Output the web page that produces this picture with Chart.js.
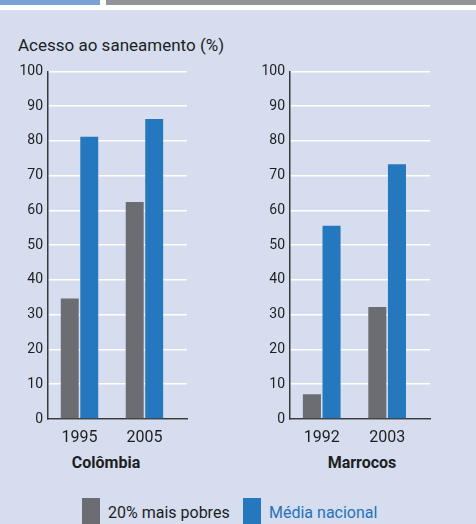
<!DOCTYPE html>
<html>
<head>
<meta charset="utf-8">
<script src="https://cdn.jsdelivr.net/npm/chart.js@4.4.0/dist/chart.umd.min.js"></script>
<style>
    html, body { margin: 0; padding: 0; background: #fff; }
    #wrap { position: relative; width: 476px; height: 524px; overflow: hidden; font-family: Roboto, sans-serif; color: #1e1e1e; }
    .strip { position: absolute; top: 0; height: 5px; }
    #panel { position: absolute; left: 0; top: 10px; width: 476px; height: 514px; background: #d5ddef; }
    canvas { position: absolute; }
    .txt { position: absolute; white-space: nowrap; }
    .country { font-weight: bold; font-size: 16px; text-align: center; width: 120px; }
    .swatch { position: absolute; width: 18px; height: 26px; }
</style>
</head>
<body>
<div id="wrap">
    <div class="strip" style="left:0;width:100px;background:#7aa2d5;"></div>
    <div class="strip" style="left:106px;width:370px;background:#939498;"></div>
    <div id="panel"></div>
    <div class="txt" id="title" style="left:18px;top:35px;font-size:17px;"></div>
    <canvas id="chartColombia" style="left:0;top:58px;"></canvas>
    <canvas id="chartMorocco" style="left:242px;top:58px;"></canvas>
    <div class="txt country" id="nameColombia" style="left:46px;top:453px;"></div>
    <div class="txt country" id="nameMorocco" style="left:302px;top:453px;"></div>
    <div id="legend"></div>
</div>
<script>
// Data
var chartTitle = 'Acesso ao saneamento (%)';
var countries = ['Colômbia', 'Marrocos'];
var seriesNames = ['20% mais pobres', 'Média nacional'];

var colombiaYears = ['1995', '2005'];
var colombiaPoorest = [34.7, 62.4];
var colombiaAverage = [81.2, 86.3];

var moroccoYears = ['1992', '2003'];
var moroccoPoorest = [7.1, 32.2];
var moroccoAverage = [55.6, 73.3];

var yTicks = [0, 10, 20, 30, 40, 50, 60, 70, 80, 90, 100];

// Styles
var seriesColors = ['#6c6d72', '#2678be'];
var legendTextColors = ['#1e1e1e', '#2672b8'];

document.getElementById('title').textContent = chartTitle;
document.getElementById('nameColombia').textContent = countries[0];
document.getElementById('nameMorocco').textContent = countries[1];

// Legend
var legend = document.getElementById('legend');
var legendX = [82, 243];
for (let i = 0; i < seriesNames.length; i++) {
    var sw = document.createElement('div');
    sw.className = 'swatch';
    sw.style.left = legendX[i] + 'px';
    sw.style.top = '498px';
    sw.style.background = seriesColors[i];
    legend.appendChild(sw);
    var lt = document.createElement('div');
    lt.className = 'txt';
    lt.style.left = (legendX[i] + 26) + 'px';
    lt.style.top = '503px';
    lt.style.fontSize = '16px';
    lt.style.color = legendTextColors[i];
    lt.textContent = seriesNames[i];
    legend.appendChild(lt);
}

Chart.defaults.font.family = 'Roboto, sans-serif';
Chart.defaults.color = '#1e1e1e';

const makeChart = (id, years, poorest, average, padRight) => {
    var canvas = document.getElementById(id);
    canvas.width = 200;
    canvas.height = 391;
    canvas.style.width = '200px';
    canvas.style.height = '391px';
    var ctx = canvas.getContext('2d');
    var series = [poorest, average];
    var datasets = [];
    for (let i = 0; i < series.length; i++) {
        datasets.push({
            label: seriesNames[i],
            data: series[i].map((v, j) => ({ x: j, y: v })),
            backgroundColor: seriesColors[i],
            borderWidth: 0,
            barPercentage: 0.92,
            categoryPercentage: 0.6,
        });
    }
    return new Chart(ctx, {
        type: 'bar',
        data: { datasets: datasets },
        options: {
            responsive: false,
            animation: false,
            layout: { padding: { top: 6, right: padRight, left: 0, bottom: 0 } },
            plugins: {
                legend: { display: false },
                tooltip: { enabled: false },
                title: { display: false },
            },
            scales: {
                x: {
                    type: 'linear',
                    offset: false,
                    min: -0.485,
                    max: 1.655,
                    grid: { display: false, drawTicks: false },
                    border: { display: true, color: '#3a3a3a', width: 1.5 },
                    afterBuildTicks: (scale) => {
                        scale.ticks = years.map((y, j) => ({ value: j }));
                    },
                    afterFit: (scale) => { scale.height = 30; },
                    ticks: {
                        padding: 9,
                        font: { size: 16 },
                        callback: (v) => years[v],
                    },
                },
                y: {
                    min: 0,
                    max: 100,
                    afterBuildTicks: (scale) => {
                        scale.ticks = yTicks.map((t) => ({ value: t }));
                    },
                    afterFit: (scale) => { scale.width = 48; },
                    grid: { color: '#ffffff', lineWidth: 1.5, drawTicks: false },
                    border: { display: true, color: '#3a3a3a', width: 1.5 },
                    ticks: {
                        padding: 5,
                        font: { size: 14 },
                    },
                },
            },
        },
    });
};

makeChart('chartColombia', colombiaYears, colombiaPoorest, colombiaAverage, 13);
makeChart('chartMorocco', moroccoYears, moroccoPoorest, moroccoAverage, 12);
</script>
</body>
</html>
